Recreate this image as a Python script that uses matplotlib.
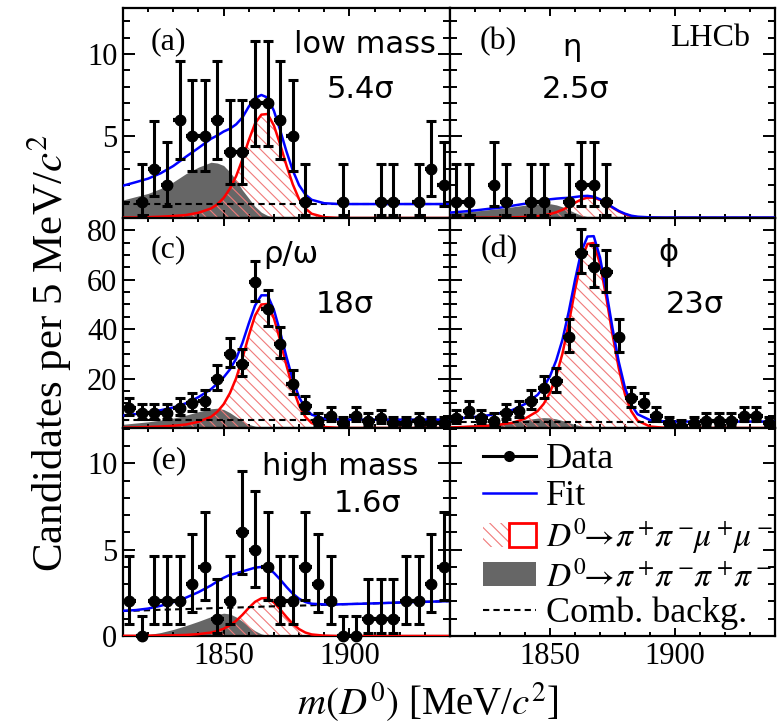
import math
import numpy as np
import matplotlib
matplotlib.use('Agg')
import matplotlib.pyplot as plt
from matplotlib.lines import Line2D
from matplotlib.patches import Patch
from matplotlib.legend_handler import HandlerTuple
from matplotlib.ticker import FixedLocator, MultipleLocator

plt.rcParams['font.family'] = ['Liberation Serif', 'DejaVu Serif']
plt.rcParams['mathtext.fontset'] = 'stix'
plt.rcParams['hatch.linewidth'] = 0.8

# Step 1: data
# centres of the 5 MeV/c2 bins
bin_centres = [1812.5, 1817.5, 1822.5, 1827.5, 1832.5, 1837.5, 1842.5, 1847.5,
               1852.5, 1857.5, 1862.5, 1867.5, 1872.5, 1877.5, 1882.5, 1887.5,
               1892.5, 1897.5, 1902.5, 1907.5, 1912.5, 1917.5, 1922.5, 1927.5,
               1932.5, 1937.5]

counts_a = [0, 1, 3, 2, 6, 5, 5, 6, 4, 4, 7, 7, 6, 5, 1, 0, 0, 1, 0, 0, 1, 1, 0, 1, 3, 2]
counts_b = [1, 1, 0, 2, 1, 0, 1, 1, 0, 1, 2, 2, 1, 0, 0, 0, 0, 0, 0, 0, 0, 0, 0, 0, 0, 0]
counts_c = [8, 6, 6, 6, 8, 10, 11, 20, 30, 26, 59, 48, 34, 18, 9, 3, 5, 2, 5, 3, 4, 2, 2, 3, 2, 2]
counts_d = [4, 7, 4, 3, 6, 7, 11, 16, 19, 37, 71, 65, 63, 37, 12, 10, 5, 2, 1, 2, 3, 3, 3, 5, 5, 2]
counts_e = [2, 0, 2, 2, 2, 3, 4, 1, 2, 6, 5, 4, 2, 2, 4, 3, 2, 0, 0, 1, 1, 1, 2, 2, 3, 4]

# masses where the fit curves were read
fit_mass = [1810, 1815, 1820, 1825, 1830, 1835, 1840, 1845, 1847.5, 1850, 1852.5,
            1855, 1857.5, 1860, 1862.5, 1865, 1867.5, 1870, 1872.5, 1875, 1877.5,
            1880, 1882.5, 1885, 1890, 1895, 1900, 1910, 1920, 1930, 1940]

signal_a = [0.02, 0.03, 0.05, 0.08, 0.12, 0.18, 0.32, 0.58, 0.83, 1.22, 1.79, 2.56, 3.58,
            4.74, 5.76, 6.3, 6.34, 5.63, 4.48, 3.2, 2.05, 1.15, 0.58, 0.26, 0.05, 0.01,
            0, 0, 0, 0, 0]
pipi_a = [1.1, 1.3, 1.5, 1.8, 2.2, 2.7, 3.1, 3.4, 3.35, 3.2, 2.8, 2.3, 1.7, 1.2, 0.7,
          0.35, 0.15, 0.05, 0.01, 0, 0, 0, 0, 0, 0, 0, 0, 0, 0, 0, 0]
comb_a = [0.85] * 31

signal_b = [0, 0.01, 0.01, 0.02, 0.02, 0.04, 0.06, 0.11, 0.16, 0.24, 0.35, 0.5, 0.7,
            0.93, 1.13, 1.24, 1.24, 1.1, 0.88, 0.63, 0.4, 0.23, 0.11, 0.05, 0.01, 0,
            0, 0, 0, 0, 0]
pipi_b = [0.3, 0.35, 0.42, 0.5, 0.58, 0.68, 0.78, 0.86, 0.88, 0.87, 0.8, 0.68, 0.5,
          0.32, 0.17, 0.08, 0.03, 0.01, 0, 0, 0, 0, 0, 0, 0, 0, 0, 0, 0, 0, 0]
comb_b = [0.03] * 31

signal_c = [0.15, 0.25, 0.4, 0.6, 0.9, 1.4, 2.5, 4.5, 6.6, 9.6, 14.1, 20.2, 28.3, 37.4,
            45.5, 50.0, 50.2, 44.4, 35.4, 25.3, 16.2, 9.1, 4.5, 2.0, 0.4, 0.1,
            0, 0, 0, 0, 0]
pipi_c = [1.5, 2.0, 2.5, 3.2, 4.0, 5.2, 6.6, 7.8, 8.0, 7.5, 6.2, 4.5, 2.8, 1.5, 0.7,
          0.3, 0.1, 0.03, 0, 0, 0, 0, 0, 0, 0, 0, 0, 0, 0, 0, 0]
comb_c = [3.4] * 31

signal_d = [0.2, 0.4, 0.6, 0.9, 1.4, 2.1, 3.8, 6.8, 9.8, 14.3, 21.1, 30.2, 42.3, 55.9,
            68.0, 74.5, 74.9, 66.4, 52.9, 37.8, 24.2, 13.6, 6.8, 3.0, 0.6, 0.15,
            0, 0, 0, 0, 0]
pipi_d = [0.8, 1.0, 1.3, 1.6, 2.0, 2.6, 3.3, 4.0, 4.2, 4.1, 3.7, 3.0, 2.2, 1.4, 0.8,
          0.4, 0.15, 0.05, 0, 0, 0, 0, 0, 0, 0, 0, 0, 0, 0, 0, 0]
comb_d = [2.6] * 31

signal_e = [0.01, 0.01, 0.02, 0.03, 0.04, 0.06, 0.11, 0.2, 0.29, 0.42, 0.62, 0.88, 1.23,
            1.63, 1.98, 2.18, 2.2, 1.94, 1.54, 1.10, 0.70, 0.40, 0.20, 0.09, 0.02, 0,
            0, 0, 0, 0, 0]
pipi_e = [0, 0.02, 0.08, 0.2, 0.38, 0.6, 0.85, 1.12, 1.25, 1.32, 1.28, 1.1, 0.85, 0.55,
          0.3, 0.12, 0.04, 0, 0, 0, 0, 0, 0, 0, 0, 0, 0, 0, 0, 0, 0]
comb_e = [1.45, 1.47, 1.49, 1.52, 1.54, 1.56, 1.58, 1.61, 1.62, 1.63, 1.64, 1.65, 1.66,
          1.67, 1.68, 1.70, 1.71, 1.72, 1.73, 1.74, 1.75, 1.76, 1.77, 1.78, 1.81, 1.83,
          1.85, 1.89, 1.94, 1.98, 2.02]

panel_tags = ['(a)', '(b)', '(c)', '(d)', '(e)']
panel_names = ['low mass', 'η', 'ρ/ω', 'ϕ', 'high mass']
panel_signif = ['5.4σ', '2.5σ', '18σ', '23σ', '1.6σ']

legend_labels = ['Data', 'Fit',
                 r'$D^0\!\!\rightarrow\!\pi^+\!\pi^-\!\mu^+\!\mu^-$',
                 r'$D^0\!\!\rightarrow\!\pi^+\!\pi^-\!\pi^+\!\pi^-$',
                 'Comb. backg.']


# Poisson (Garwood) 68% interval, as used for the data error bars
def poisson_cdf(n, mu):
    return sum(math.exp(-mu + k * math.log(mu) - math.lgamma(k + 1)) for k in range(n + 1))


def poisson_errors(n):
    if n == 0:
        return 0.0, 1.148
    a = 0.158655
    lo, hi = n, n + 10 * math.sqrt(n) + 10
    for _ in range(60):
        mid = 0.5 * (lo + hi)
        if poisson_cdf(n, mid) > a:
            lo = mid
        else:
            hi = mid
    up = 0.5 * (lo + hi)
    lo, hi = 1e-9, n
    for _ in range(60):
        mid = 0.5 * (lo + hi)
        if poisson_cdf(n - 1, mid) > 1 - a:
            lo = mid
        else:
            hi = mid
    down = 0.5 * (lo + hi)
    return n - down, up - n


def draw_panel(ax, counts, signal, pipi, comb, show_zero):
    total = np.array(signal) + np.array(pipi) + np.array(comb)
    ax.fill_between(fit_mass, 0, pipi, color='#666666', lw=0, zorder=1)
    ax.fill_between(fit_mass, 0, signal, facecolor='none', edgecolor='#f07a7a',
                    hatch='\\\\\\', lw=0, zorder=2)
    ax.plot(fit_mass, signal, color='red', lw=1.8, zorder=3)
    ax.plot(fit_mass, comb, color='black', lw=1.5, ls=(0, (3, 2)), zorder=3)
    ax.plot(fit_mass, total, color='blue', lw=1.8, zorder=4)

    x = np.array(bin_centres)
    n = np.array(counts)
    keep = np.ones(len(n), bool) if show_zero else n > 0
    err = np.array([poisson_errors(int(v)) for v in n]).T
    ax.errorbar(x[keep], n[keep], xerr=2.5, fmt='none', ecolor='black',
                elinewidth=3.0, capsize=0, zorder=5, clip_on=False)
    ax.errorbar(x[keep], n[keep], yerr=err[:, keep], fmt='o', color='black',
                ms=7.5, elinewidth=2.2, capsize=3.5, capthick=2.2, zorder=6,
                clip_on=False)


# Step 2: layout (3 rows x 2 columns, no gaps)
fig = plt.figure(figsize=(7.78, 7.28), dpi=100)
col_x = [123 / 778, 450 / 778]
col_w = [327 / 778, 325 / 778]
row_y = [1 - 218 / 728, 1 - 428 / 728, 1 - 636 / 728]
row_h = [210 / 728, 210 / 728, 208 / 728]
row_ylim = [12.8, 85, 12.05]
row_major = [[5, 10], [20, 40, 60, 80], [0, 5, 10]]
row_minor = [1, 5, 1]

axes = []
for r in range(3):
    for c in range(2):
        ax = fig.add_axes([col_x[c], row_y[r], col_w[c], row_h[r]])
        ax.set_xlim(1810, 1940)
        ax.set_ylim(0, row_ylim[r])
        ax.xaxis.set_major_locator(FixedLocator([1850, 1900]))
        ax.xaxis.set_minor_locator(MultipleLocator(10))
        ax.yaxis.set_major_locator(FixedLocator(row_major[r]))
        ax.yaxis.set_minor_locator(MultipleLocator(row_minor[r]))
        ax.tick_params(which='both', direction='in', top=True, right=True, width=1.4,
                       labelsize=22, pad=4)
        ax.tick_params(axis='x', which='major', length=5.5)
        ax.tick_params(axis='x', which='minor', length=3.2)
        ax.tick_params(axis='y', which='major', length=8.5)
        ax.tick_params(axis='y', which='minor', length=5)
        ax.tick_params(labelleft=(c == 0), labelbottom=(r == 2))
        for s in ax.spines.values():
            s.set_linewidth(1.6)
        axes.append(ax)

# Step 3: draw the five mass regions
panel_data = [
    (counts_a, signal_a, pipi_a, comb_a),
    (counts_b, signal_b, pipi_b, comb_b),
    (counts_c, signal_c, pipi_c, comb_c),
    (counts_d, signal_d, pipi_d, comb_d),
    (counts_e, signal_e, pipi_e, comb_e),
]
tag_pos = [(0.138, 0.838), (0.148, 0.838), (0.138, 0.848), (0.151, 0.848), (0.141, 0.841)]
name_pos = [(0.74, 0.824), (0.375, 0.812), (0.514, 0.824), (0.671, 0.838), (0.664, 0.813)]
sig_pos = [(0.725, 0.61), (0.385, 0.61), (0.679, 0.59), (0.753, 0.59), (0.749, 0.635)]

for i, (counts, signal, pipi, comb) in enumerate(panel_data):
    ax = axes[i]
    draw_panel(ax, counts, signal, pipi, comb, show_zero=(i == 4))
    ax.text(*tag_pos[i], panel_tags[i], transform=ax.transAxes, fontsize=23,
            ha='center', va='center')
    ax.text(*name_pos[i], panel_names[i], transform=ax.transAxes, fontsize=22,
            family='DejaVu Sans', ha='center', va='center')
    ax.text(*sig_pos[i], panel_signif[i], transform=ax.transAxes, fontsize=22,
            family='DejaVu Sans', ha='center', va='center')

axes[1].text(0.8, 0.857, 'LHCb', transform=axes[1].transAxes, fontsize=23,
             ha='center', va='center')

# Step 4: legend panel
handles = [
    Line2D([], [], color='black', marker='o', lw=2.2, ms=7),
    Line2D([], [], color='blue', lw=1.8),
    (Patch(facecolor='white', edgecolor='#f07a7a', hatch='\\\\\\', lw=0),
     Patch(facecolor='none', edgecolor='red', lw=2)),
    Patch(facecolor='#666666', edgecolor='none'),
    Line2D([], [], color='black', lw=1.5, ls=(0, (3, 2))),
]
leg = axes[5].legend(handles, legend_labels, loc='upper left', bbox_to_anchor=(0.1, 0.93),
                     frameon=False, fontsize=24, handlelength=1.6, handleheight=0.75,
                     labelspacing=0.12, handletextpad=0.3, borderpad=0, borderaxespad=0,
                     handler_map={tuple: HandlerTuple(ndivide=None)})
for t in leg.get_texts():
    if '$' not in t.get_text():
        t.set_fontsize(26)

# Step 5: axis titles
fig.text(0.063, 0.515, r'Candidates per 5 MeV/$c^2$', rotation=90, fontsize=31,
         family=['Liberation Serif'], ha='center', va='center')
fig.text(0.55, 0.035, r'$m(D^0)$ [MeV/$c^2$]', fontsize=28,
         family=['Liberation Serif'], ha='center', va='center')

fig.savefig('out.png', dpi=100)
